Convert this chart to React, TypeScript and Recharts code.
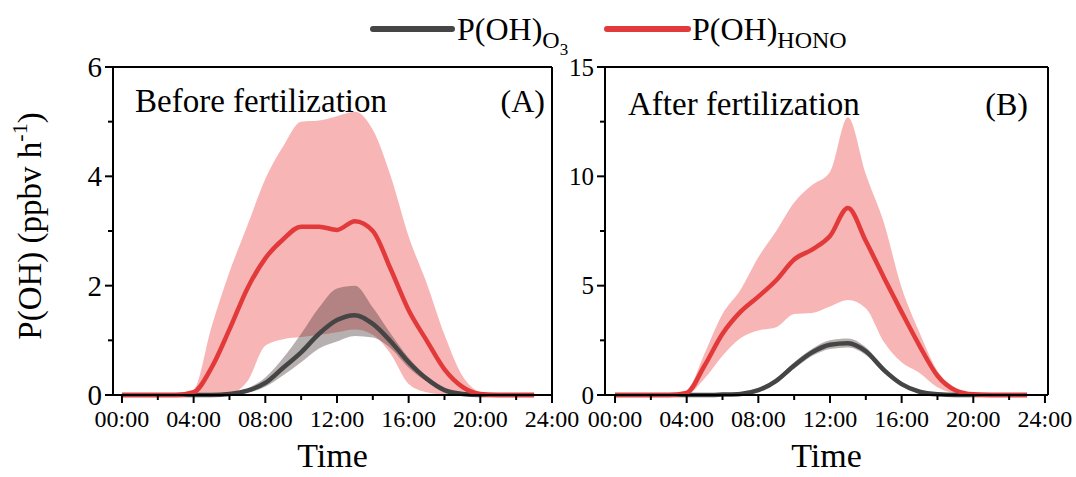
import { ComposedChart, Area, Line, XAxis, YAxis, ReferenceLine } from "recharts"

const serif = "'Liberation Serif', 'Times New Roman', serif"

const hours = [0, 1, 2, 3, 4, 5, 6, 7, 8, 9, 10, 11, 12, 13, 14, 15, 16, 17, 18, 19, 20, 21, 22, 23]
const xTicks = [0, 2, 4, 6, 8, 10, 12, 14, 16, 18, 20, 22, 24]

// (A) before fertilization
const honoA = [0, 0, 0, 0, 0.05, 0.5, 1.2, 1.95, 2.5, 2.85, 3.08, 3.08, 3.02, 3.18, 3.0, 2.3, 1.55, 1.0, 0.47, 0.15, 0.02, 0, 0, 0]
const honoAHi = [0, 0, 0, 0, 0.1, 1.25, 2.25, 3.1, 3.95, 4.55, 5.0, 5.02, 5.1, 5.18, 4.85, 4.0, 2.9, 2.05, 1.1, 0.35, 0.05, 0, 0, 0]
const honoALo = [0, 0, 0, 0, 0, 0, 0.02, 0.25, 0.9, 1.02, 1.06, 1.1, 1.15, 1.2, 1.1, 0.75, 0.2, 0.05, 0.01, 0, 0, 0, 0, 0]
const o3A = [0, 0, 0, 0, 0, 0, 0.02, 0.08, 0.22, 0.5, 0.78, 1.12, 1.37, 1.46, 1.3, 0.98, 0.6, 0.3, 0.09, 0.02, 0, 0, 0, 0]
const o3AHi = [0, 0, 0, 0, 0, 0, 0.03, 0.12, 0.32, 0.68, 1.12, 1.6, 1.95, 2.0, 1.6, 1.12, 0.68, 0.34, 0.11, 0.03, 0, 0, 0, 0]
const o3ALo = [0, 0, 0, 0, 0, 0, 0.01, 0.04, 0.15, 0.36, 0.6, 0.85, 0.98, 1.08, 1.05, 0.85, 0.5, 0.25, 0.07, 0.01, 0, 0, 0, 0]

// (B) after fertilization
const honoB = [0, 0, 0, 0, 0.1, 1.35, 2.8, 3.8, 4.5, 5.25, 6.2, 6.65, 7.27, 8.55, 7.04, 5.39, 3.79, 2.25, 0.88, 0.22, 0.03, 0, 0, 0]
const honoBHi = [0, 0, 0, 0, 0.2, 1.9, 3.7, 4.8, 6.3, 7.5, 8.8, 9.6, 10.2, 12.7, 10.1, 7.9, 4.9, 2.85, 1.1, 0.3, 0.05, 0, 0, 0]
const honoBLo = [0, 0, 0, 0, 0.03, 0.75, 1.8, 2.6, 2.95, 3.1, 3.7, 3.75, 4.05, 4.35, 3.97, 2.44, 1.5, 1.01, 0.36, 0.08, 0, 0, 0, 0]
const o3B = [0, 0, 0, 0, 0, 0, 0.02, 0.05, 0.22, 0.65, 1.35, 1.95, 2.3, 2.37, 2.0, 1.15, 0.5, 0.15, 0.03, 0, 0, 0, 0, 0]
const o3BHi = [0, 0, 0, 0, 0, 0, 0.03, 0.08, 0.28, 0.75, 1.5, 2.12, 2.5, 2.58, 2.18, 1.28, 0.58, 0.19, 0.04, 0, 0, 0, 0, 0]
const o3BLo = [0, 0, 0, 0, 0, 0, 0.01, 0.03, 0.17, 0.56, 1.2, 1.78, 2.1, 2.17, 1.83, 1.02, 0.42, 0.11, 0.02, 0, 0, 0, 0, 0]

const RED = "#e23a3a"
const GREY = "#454545"
const PINK = "#f8b5b5"

function rows(hono: number[], honoHi: number[], honoLo: number[], o3: number[], o3Hi: number[], o3Lo: number[]) {
  return hours.map((t, i) => ({
    t,
    hono: hono[i],
    honoBand: [honoLo[i], honoHi[i]],
    o3: o3[i],
    o3Band: [o3Lo[i], o3Hi[i]],
  }))
}

const fmtHour = (v: number) => `${String(v).padStart(2, "0")}:00`

function XTick(props: any) {
  const { x, y, payload } = props
  const axisY = y - 10
  const major = payload.value % 4 === 0
  return (
    <g>
      <line x1={x} x2={x} y1={axisY} y2={axisY + (major ? 8 : 5)} stroke="#000" strokeWidth={2} />
      {major && (
        <text x={x} y={axisY + 32} textAnchor="middle" fontSize={24} fontFamily={serif} fill="#000">
          {fmtHour(payload.value)}
        </text>
      )}
    </g>
  )
}

function makeYTick(step: number, fontSize: number) {
  return function YTick(props: any) {
    const { x, y, payload } = props
    const axisX = x + 10
    const major = Math.abs(payload.value / step - Math.round(payload.value / step)) < 1e-6
    return (
      <g>
        <line x1={axisX} x2={axisX - (major ? 8 : 5)} y1={y} y2={y} stroke="#000" strokeWidth={2} />
        {major && (
          <text x={axisX - 11} y={y} dy="0.35em" textAnchor="end" fontSize={fontSize} fontFamily={serif} fill="#000">
            {payload.value}
          </text>
        )}
      </g>
    )
  }
}

interface PanelProps {
  data: ReturnType<typeof rows>
  width: number
  yWidth: number
  right: number
  xDomain: [number, number]
  yMax: number
  yTicks: number[]
  yTick: (p: any) => any
}

function Panel({ data, width, yWidth, right, xDomain, yMax, yTicks, yTick }: PanelProps) {
  return (
    <ComposedChart width={width} height={477} data={data} margin={{ top: 67, right, bottom: 0, left: 0 }}>
      <XAxis
        dataKey="t"
        type="number"
        domain={xDomain}
        ticks={xTicks}
        interval={0}
        height={82}
        tickSize={8}
        tickMargin={2}
        tickLine={false}
        tick={<XTick />}
        axisLine={{ stroke: "#000", strokeWidth: 2 }}
        label={{ value: "Time", position: "insideBottom", offset: 10, fontSize: 34, fill: "#000", fontFamily: serif }}
      />
      <YAxis
        type="number"
        domain={[0, yMax]}
        ticks={yTicks}
        interval={0}
        width={yWidth}
        tickSize={8}
        tickMargin={2}
        tickLine={false}
        tick={yTick}
        axisLine={{ stroke: "#000", strokeWidth: 2 }}
      />
      <ReferenceLine y={yMax} stroke="#000" strokeWidth={2} />
      <ReferenceLine x={xDomain[1]} stroke="#000" strokeWidth={2} />
      <Area dataKey="honoBand" type="monotone" stroke="none" fill={PINK} fillOpacity={1} isAnimationActive={false} />
      <Area dataKey="o3Band" type="monotone" stroke="none" fill="#4a3a3a" fillOpacity={0.4} isAnimationActive={false} />
      <Line dataKey="o3" type="monotone" stroke={GREY} strokeWidth={4.5} dot={false} isAnimationActive={false} />
      <Line dataKey="hono" type="monotone" stroke={RED} strokeWidth={4.5} dot={false} isAnimationActive={false} />
    </ComposedChart>
  )
}

const dataA = rows(honoA, honoAHi, honoALo, o3A, o3AHi, o3ALo)
const dataB = rows(honoB, honoBHi, honoBLo, o3B, o3BHi, o3BLo)

export default function App() {
  return (
    <div style={{ position: "absolute", left: 0, top: 0, width: 1076, height: 477, background: "#fff", overflow: "hidden" }}>
      <div style={{ position: "absolute", left: 0, top: 0 }}>
        <Panel
          data={dataA}
          width={580}
          yWidth={113}
          right={28}
          xDomain={[-0.5, 24]}
          yMax={6}
          yTicks={[0, 1, 2, 3, 4, 5, 6]}
          yTick={makeYTick(2, 29)}
        />
      </div>
      <div style={{ position: "absolute", left: 560, top: 0 }}>
        <Panel
          data={dataB}
          width={516}
          yWidth={45}
          right={28}
          xDomain={[-0.56, 24.17]}
          yMax={15}
          yTicks={[0, 2.5, 5, 7.5, 10, 12.5, 15]}
          yTick={makeYTick(5, 25)}
        />
      </div>
      <svg width={1076} height={477} style={{ position: "absolute", left: 0, top: 0, pointerEvents: "none" }} fontFamily={serif}>
        <line x1={373} x2={452} y1={29} y2={29} stroke={GREY} strokeWidth={6} strokeLinecap="round" />
        <text x={457} y={40} fontSize={32} fill="#000">
          P(OH)
          <tspan fontSize={24} dy={8}>O</tspan>
          <tspan fontSize={17} dy={7}>3</tspan>
        </text>
        <line x1={607} x2={688} y1={29} y2={29} stroke={RED} strokeWidth={6} strokeLinecap="round" />
        <text x={692} y={40} fontSize={32} fill="#000">
          P(OH)
          <tspan fontSize={24} dy={8}>HONO</tspan>
        </text>
        <text transform="translate(41,226) rotate(-90)" textAnchor="middle" fontSize={33} fill="#000">
          P(OH) (ppbv h
          <tspan fontSize={22} dy={-14}>-1</tspan>
          <tspan dy={14}>)</tspan>
        </text>
        <text x={135} y={112} fontSize={33} fill="#000">Before fertilization</text>
        <text x={545} y={112} fontSize={32} textAnchor="end" fill="#000">(A)</text>
        <text x={628} y={115} fontSize={33} fill="#000">After fertilization</text>
        <text x={1028} y={115} fontSize={32} textAnchor="end" fill="#000">(B)</text>
      </svg>
    </div>
  )
}
